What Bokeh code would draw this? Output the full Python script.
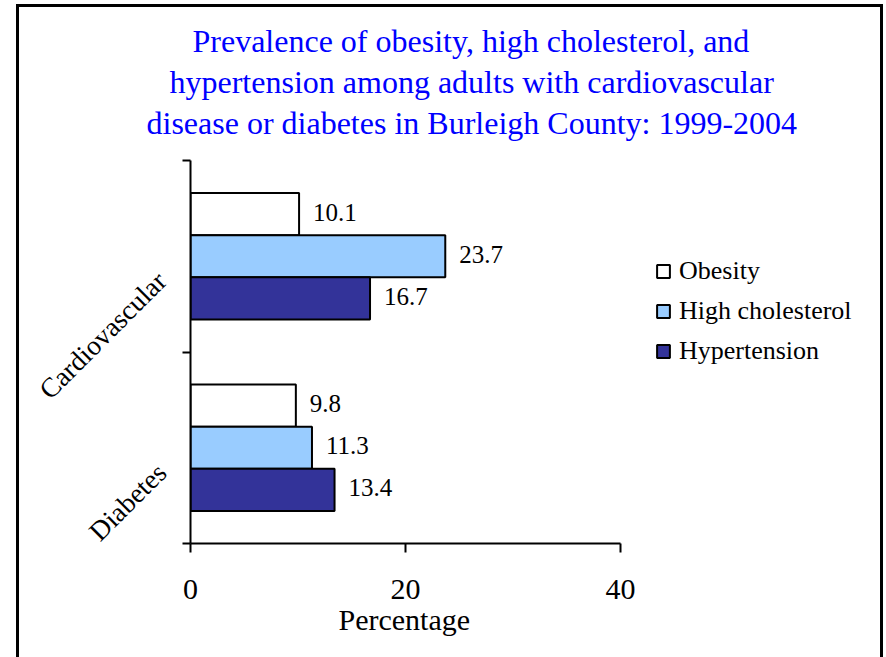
import math
from bokeh.plotting import figure
from bokeh.models import (ColumnDataSource, Range1d, FixedTicker, LabelSet, Title,
                          Legend, LegendItem, CustomJSTickFormatter, InlineStyleSheet)
from bokeh.embed import file_html
from bokeh.resources import INLINE

# ---- data ----
categories = ["Cardiovascular", "Diabetes"]
series_names = ["Obesity", "High cholesterol", "Hypertension"]
obesity = [10.1, 9.8]
high_cholesterol = [23.7, 11.3]
hypertension = [16.7, 13.4]
x_ticks = [0, 20, 40]
x_label = "Percentage"
title_lines = ["Prevalence of obesity, high cholesterol, and",
               "hypertension among adults with cardiovascular",
               "disease or diabetes in Burleigh County: 1999-2004"]

series_values = [obesity, high_cholesterol, hypertension]
series_colors = ["#FFFFFF", "#99CCFF", "#333399"]

FONT = "Liberation Serif"
n_cat = len(categories)
cat_pos = [n_cat - i - 0.5 for i in range(n_cat)]
label_pos = [c - 0.105 for c in cat_pos]
bar_h = 0.22
offsets = [bar_h, 0.0, -bar_h]
title_offsets = [2, -21, -44]

# the frame reaches the right edge so that the legend can sit inside it;
# the x axis itself is bounded to 0..40 (430 px of 696 px)
x_max = x_ticks[-1] * 696 / 430

p = figure(width=886, height=657, x_range=Range1d(x_ticks[0], x_max),
           y_range=Range1d(0, n_cat), output_backend="svg", toolbar_location=None,
           min_border_left=190, min_border_right=0, min_border_top=160,
           min_border_bottom=114, outline_line_color=None,
           background_fill_color="white", border_fill_color="white")
p.xgrid.visible = False
p.ygrid.visible = False

# bars
items = []
for name, vals, col, off in zip(series_names, series_values, series_colors, offsets):
    src = ColumnDataSource(dict(y=[c + off for c in cat_pos], v=vals,
                                lab=[f"{v:.1f}" for v in vals]))
    r = p.hbar(y="y", right="v", left=0, height=bar_h, source=src,
               fill_color=col, line_color="black", line_width=2)
    items.append(LegendItem(label=name, renderers=[r]))
    p.add_layout(LabelSet(x="v", y="y", text="lab", source=src, x_offset=14, y_offset=2,
                          text_align="left", text_baseline="middle",
                          text_font=FONT, text_font_size="25px", text_color="black"))

# x axis
xa = p.xaxis[0]
xa.bounds = (x_ticks[0], x_ticks[-1])
xa.ticker = FixedTicker(ticks=x_ticks)
xa.major_tick_out = 9
xa.major_tick_in = 0
xa.minor_tick_line_color = None
xa.axis_line_width = 2
xa.major_tick_line_width = 2
xa.major_label_text_font = FONT
xa.major_label_text_font_size = "30px"
xa.major_label_text_color = "black"
xa.major_label_standoff = 27

# x axis title, centred under the bounded axis (0..40)
xt = Title(text=x_label, align="left", offset=148, text_font=FONT,
           text_font_size="30px", text_font_style="normal", text_color="black",
           standoff=-2)
p.add_layout(xt, "below")

# y axis: boundary ticks (minor) + rotated category labels (major, no tick mark)
ya = p.yaxis[0]
ya.ticker = FixedTicker(ticks=label_pos, minor_ticks=list(range(n_cat + 1)))
ya.formatter = CustomJSTickFormatter(args=dict(labels=categories, pos=label_pos), code="""
    for (let i = 0; i < pos.length; i++) {
        if (Math.abs(pos[i] - tick) < 1e-6) { return labels[i]; }
    }
    return "";
""")
ya.major_tick_line_color = None
ya.major_tick_out = 0
ya.major_tick_in = 0
ya.minor_tick_out = 8
ya.minor_tick_in = 0
ya.minor_tick_line_width = 2
ya.minor_tick_line_color = "black"
ya.axis_line_width = 2
ya.major_label_orientation = math.pi / 4
ya.major_label_standoff = 21
ya.major_label_text_font = FONT
ya.major_label_text_font_size = "27.5px"
ya.major_label_text_color = "black"

# legend inside the (wide) frame
legend = Legend(items=items, location=(465, 172), padding=0, margin=0,
                border_line_color=None, background_fill_alpha=0,
                glyph_width=16, glyph_height=16, label_standoff=8,
                label_height=40, spacing=0, label_text_color="black",
                label_text_font=FONT, label_text_font_size="26px")
p.add_layout(legend, "center")

# title: p.title is the outermost line; added titles stack outward from the frame
def style_title(t, off, standoff):
    t.align = "left"
    t.offset = off
    t.text_font = FONT
    t.text_font_size = "32px"
    t.text_font_style = "normal"
    t.text_color = "#0000FF"
    t.standoff = standoff

p.title.text = title_lines[0]
style_title(p.title, title_offsets[0], 3)
p.add_layout(Title(text=" ", text_font_size="14px", standoff=0), "above")  # gap above frame
t3 = Title(text=title_lines[2])
style_title(t3, title_offsets[2], 3)
p.add_layout(t3, "above")
t2 = Title(text=title_lines[1])
style_title(t2, title_offsets[1], 3)
p.add_layout(t2, "above")

# outer frame line drawn by CSS (outside the plotting frame)
p.stylesheets = [InlineStyleSheet(css="""
:host::after { content: ''; position: absolute; left: 16px; top: 4px; right: 3px;
  bottom: 0; border: 3px solid black; border-bottom: none; pointer-events: none;
  z-index: 10; }
""")]

open("out.html", "w").write(file_html(p, INLINE))
